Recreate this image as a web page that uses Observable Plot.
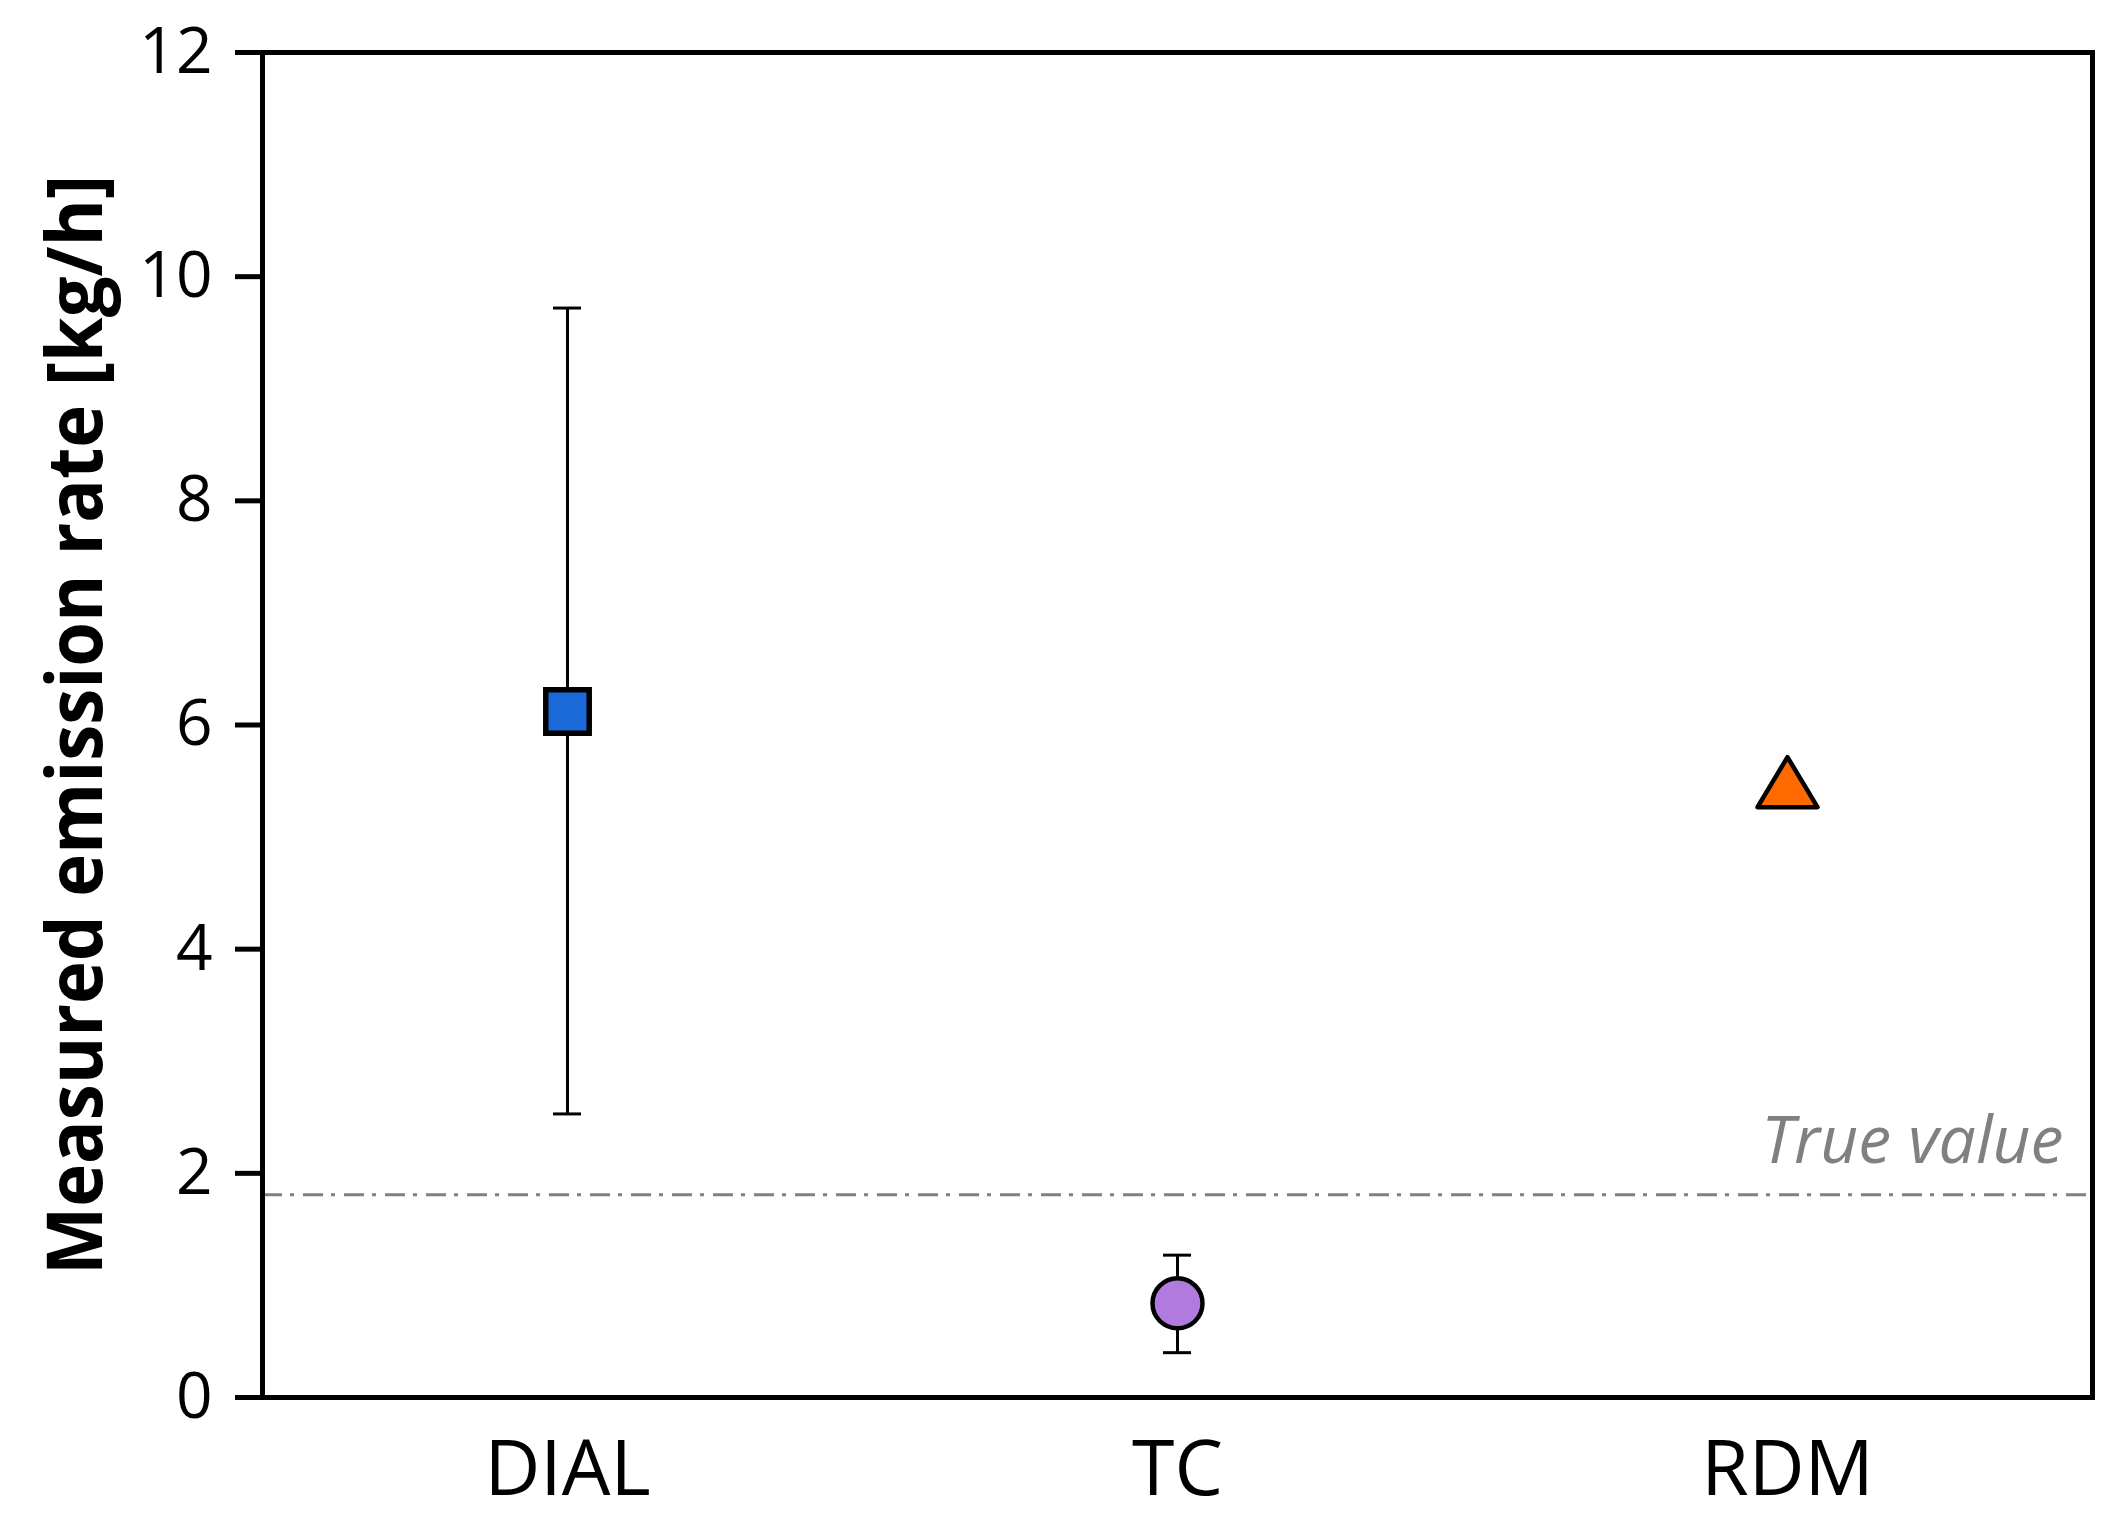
<!DOCTYPE html>
<html>
<head>
<meta charset="utf-8">
<script src="https://cdn.jsdelivr.net/npm/d3@7"></script>
<script src="https://cdn.jsdelivr.net/npm/@observablehq/plot@0.6"></script>
<style>
  html, body { margin: 0; padding: 0; background: #fff; }
  svg { display: block; }
</style>
</head>
<body>
<div id="chart"></div>
<script>
// ---- data ----
const methods = ["DIAL", "TC", "RDM"];
const rates = [6.12, 0.84, 5.49];
const lower = [2.53, 0.40, null];
const upper = [9.72, 1.27, null];
const trueValue = 1.81;
const trueLabel = "True value";
const yTicks = [0, 2, 4, 6, 8, 10, 12];
const yTitle = "Measured emission rate [kg/h]";

const table = methods.map((m, i) => ({method: m, rate: rates[i], lo: lower[i], hi: upper[i]}));
const withErr = table.filter(d => d.lo != null);

// triangle centred on its bounding box (like a spreadsheet marker)
const triangleBox = {
  draw(context, size) {
    const r = Math.sqrt(size / Math.PI);
    const w = 3 * r, h = 2.5 * r;
    context.moveTo(0, -h / 2);
    context.lineTo(w / 2, h / 2);
    context.lineTo(-w / 2, h / 2);
    context.closePath();
  }
};

const W = 2123, H = 1528;
const chart = Plot.plot({
  width: W,
  height: H,
  marginLeft: 262,
  marginRight: 31,
  marginTop: 52,
  marginBottom: 131,
  style: {fontFamily: "'Open Sans', sans-serif", background: "#fff", color: "black"},
  x: {type: "band", domain: methods, padding: 0},
  y: {domain: [0, 12]},
  marks: [
    Plot.ruleY([trueValue], {stroke: "#808080", strokeWidth: 3, strokeDasharray: "20,8,4,9"}),
    Plot.text([trueLabel], {frameAnchor: "right", y: () => trueValue, dx: -29, dy: -53, textAnchor: "end",
      lineAnchor: "middle", fontStyle: "italic", fill: "#808080", fontSize: 66}),
    Plot.ruleX(withErr, {x: "method", y1: "lo", y2: "hi", stroke: "black", strokeWidth: 3}),
    Plot.tickY(withErr, {x: "method", y: "lo", stroke: "black", strokeWidth: 3, insetLeft: 291, insetRight: 291}),
    Plot.tickY(withErr, {x: "method", y: "hi", stroke: "black", strokeWidth: 3, insetLeft: 291, insetRight: 291}),
    Plot.dot(table.filter(d => d.method === "DIAL"), {x: "method", y: "rate", symbol: "square", r: 24.5,
      fill: "#1B6AD9", stroke: "black", strokeWidth: 5.5}),
    Plot.dot(table.filter(d => d.method === "TC"), {x: "method", y: "rate", symbol: "circle", r: 25,
      fill: "#B07ADF", stroke: "black", strokeWidth: 4.5}),
    Plot.dot(table.filter(d => d.method === "RDM"), {x: "method", y: "rate", symbol: triangleBox, r: 20,
      fill: "#FF6A00", stroke: "black", strokeWidth: 4.5, strokeLinejoin: "round"}),
    Plot.frame({stroke: "black", strokeWidth: 5}),
    Plot.axisY(yTicks, {tickSize: 27, tickPadding: 23, fontSize: 64, strokeWidth: 5, stroke: "black", fill: "black",
      label: null, tickFormat: d3.format("d")}),
    Plot.axisX({tickSize: 0, tickPadding: 43, fontSize: 77, fill: "black", label: null}),
    Plot.text([yTitle], {frameAnchor: "left", dx: -185, rotate: -90, fontWeight: "bold", fontSize: 77,
      fill: "black", textAnchor: "middle", lineAnchor: "middle"})
  ]
});

document.getElementById("chart").appendChild(chart);

// condense the bold y title to the reference length
for (const t of chart.querySelectorAll("text")) {
  if (t.textContent === yTitle) {
    t.setAttribute("textLength", 1100);
    t.setAttribute("lengthAdjust", "spacingAndGlyphs");
  }
}
</script>
</body>
</html>
